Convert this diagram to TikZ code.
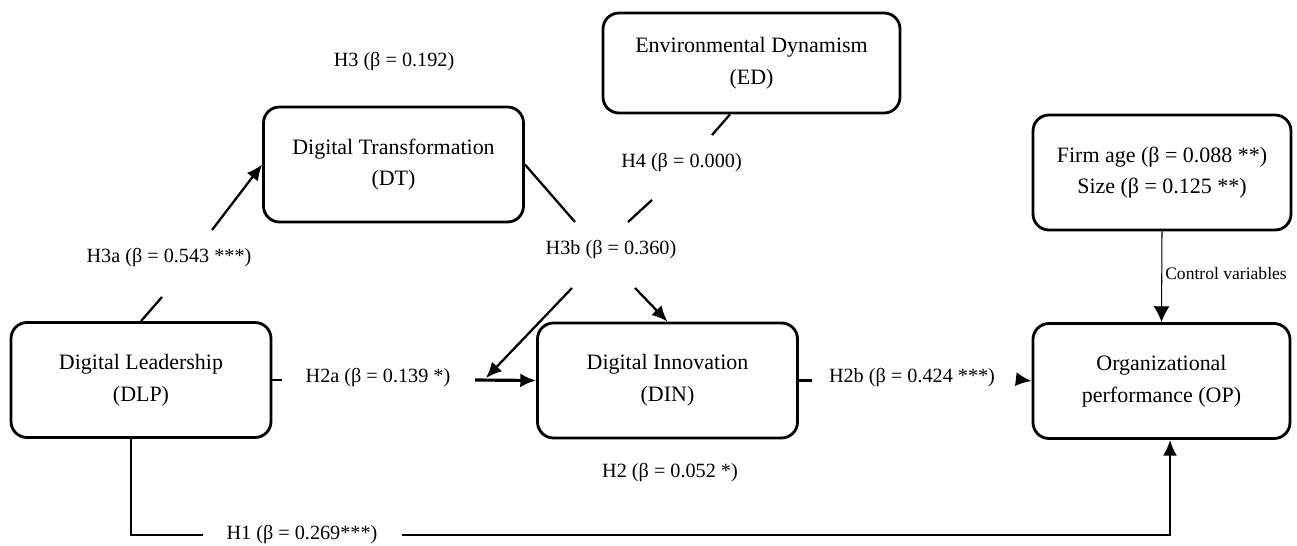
\documentclass[tikz,border=0pt]{standalone}
\usepackage{fontspec}
\setmainfont{Liberation Serif}
\usepackage{tikz}
\usetikzlibrary{positioning,arrows.meta,calc}

\begin{document}
\begin{tikzpicture}[
  varnode/.style={rectangle,draw,line width=1.6pt,rounded corners=0.32cm,align=center,minimum width=5.2cm,minimum height=2.3cm,font=\fontsize{12.5}{18}\selectfont},
  hyp/.style={font=\fontsize{11.5}{14}\selectfont,inner sep=1pt},
  path/.style={line width=1.3pt},
  maps/.style={-{Latex[length=9pt,width=8pt]},line width=1.3pt},
]
\useasboundingbox (0,0) rectangle (25.94,10.9);

% ==== VARIABLES ====
\node[varnode] (DLP) at (2.82,3.30) {Digital Leadership\\(DLP)};
\node[varnode] (DT) at (7.87,7.61) {Digital Transformation\\(DT)};
\node[varnode,minimum width=5.94cm,minimum height=2.0cm] (ED) at (15.03,9.64) {Environmental Dynamism\\(ED)};
\node[varnode] (DIN) at (13.35,3.29) {Digital Innovation\\(DIN)};
\node[varnode,minimum width=5.14cm] (OP) at (23.23,3.28) {Organizational\\performance (OP)};
\node[varnode,minimum width=5.16cm] (CV) at (23.24,7.45) {Firm age (β = 0.088 **)\\Size (β = 0.125 **)};

% ==== HYPOTHESIS LABELS ====
\node[hyp] (H3) at (7.88,9.66) {H3 (β = 0.192)};
\node[hyp] (H3a) at (3.38,5.74) {H3a (β = 0.543 ***)};
\node[hyp] (H4) at (13.63,7.64) {H4 (β = 0.000)};
\node[hyp] (H3b) at (12.22,5.90) {H3b (β = 0.360)};
\node[hyp] (H2a) at (7.56,3.34) {H2a (β = 0.139 *)};
\node[hyp] (H2b) at (18.24,3.34) {H2b (β = 0.424 ***)};
\node[hyp] (H2) at (13.40,1.44) {H2 (β = 0.052 *)};
\node[hyp] (H1) at (6.04,0.20) {H1 (β = 0.269***)};
\node[hyp,font=\fontsize{10}{12}\selectfont] (ctrl) at (24.52,5.44) {Control variables};

% break points of the split connectors
\coordinate (a1) at (3.24,4.96);
\coordinate (a2) at (4.24,6.30);
\coordinate (b1) at (11.50,6.46);
\coordinate (c1) at (14.24,8.20);
\coordinate (c2) at (13.04,6.90);
\coordinate (c3) at (12.56,6.46);
\coordinate (d1) at (11.44,5.14);
\coordinate (d2) at (9.72,3.34);
\coordinate (d3) at (12.70,5.14);
\coordinate (e1) at (9.50,3.30);
\coordinate (f1) at (20.46,3.30);
\coordinate (g2) at (4.06,0.20);
\coordinate (g3) at (8.04,0.20);
\coordinate (g4) at (23.40,0.20);

% H3a: DLP -> DT
\draw[path] (DLP.north) -- (a1);
\draw[maps] (a2) -- (DT.west);

% H3b / H4: DT and ED meet, then moderate
\draw[path] (DT.east) -- (b1);
\draw[path] ($(ED.south)+(-0.43,0)$) -- (c1);
\draw[path] (c2) -- (c3);
\draw[maps] (d1) -- (d2);
\draw[maps] (d3) -- (DIN.north);

% H2a, H2b
\draw[path] (DLP.east) -- ++(0.2,0);
\draw[maps,line width=1.8pt] (e1) -- (DIN.west);
\draw[path] (DIN.east) -- ++(0.26,0);
\draw[maps] (f1) -- (OP.west);

% control variables
\draw[-{Latex[length=9pt,width=9pt]},line width=0.6pt] (CV.south) -- (OP.north);

% H1: DLP -> OP
\draw[path] ($(DLP.south)+(-0.2,0)$) |- (g2);
\draw[maps] (g3) -- (g4) -- ($(OP.south)+(0.17,0)$);

\end{tikzpicture}
\end{document}
